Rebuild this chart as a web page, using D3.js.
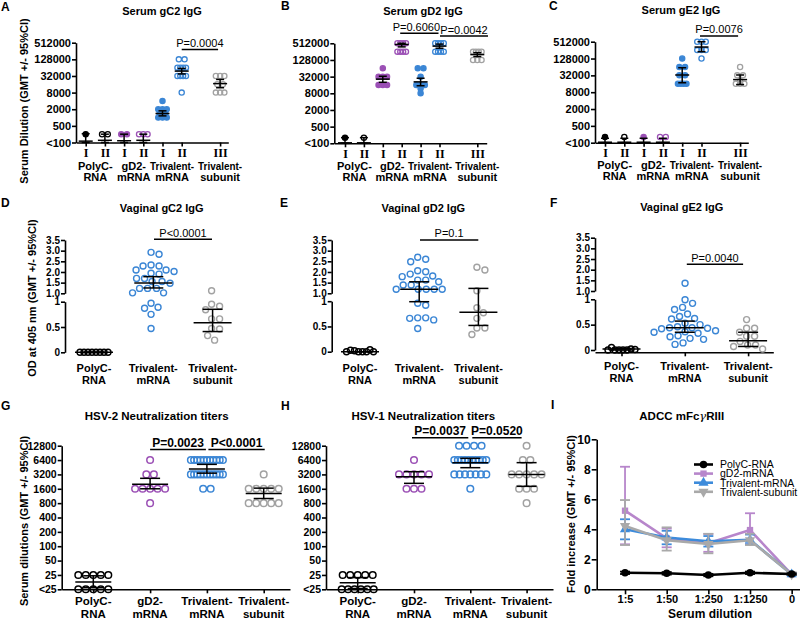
<!DOCTYPE html>
<html>
<head>
<meta charset="utf-8">
<script src="https://cdn.jsdelivr.net/npm/d3@7"></script>
<style>
  body { margin: 0; background: #fff; }
  svg { display: block; }
</style>
</head>
<body>
<script>
const FONT = "'Liberation Sans', Arial, Helvetica, sans-serif";
const purple = "#9b50b5", blue = "#3b86d5", gray = "#a2a2a2";
const purpleLine = "#b786cb", blueLine = "#3d8bdb", grayLine = "#a9a9a9";

// ---------- serum IgG (A, B, C) ----------
const serumTickValues = [125, 500, 2000, 8000, 32000, 128000, 512000];
const serumTickLabels = ["<100", "500", "2000", "8000", "32000", "128000", "512000"];
const serumRuns = ["I", "II", "I", "II", "I", "II", "III"];
const serumRunSlots = [0, 1, 2, 3, 4, 5, 7];
const serumColors = ["#000", "#000", purple, purple, blue, blue, gray];
const serumFilled = [true, false, true, false, true, false, false];
const serumGroupNames = [["PolyC-", "RNA"], ["gD2-", "mRNA"], ["Trivalent-", "mRNA"], ["Trivalent-", "subunit"]];
const serumGroupSlots = [0.5, 2.5, 4.5, 7];

const gC2Points = [[250], [250, 250], [250, 250], [250, 250, 250],
  [4000, 2000, 2000, 2000, 1400, 1400, 1000, 1000, 1000],
  [128000, 128000, 64000, 64000, 64000, 64000, 32000, 32000, 32000, 32000, 8000],
  [32000, 32000, 32000, 16000, 16000, 8000, 8000, 8000]];
const gC2Gmt = [140, 150, 145, 150, 1400, 48000, 16900];
const gC2Lo = [110, 110, 110, 110, 1150, 38000, 12000];
const gC2Hi = [260, 250, 250, 250, 1750, 60000, 24000];

const gD2Points = [[200], [200],
  [64000, 32000, 32000, 32000, 16000, 16000, 16000],
  [512000, 512000, 512000, 512000, 256000, 256000, 256000, 256000],
  [64000, 64000, 32000, 16000, 16000, 16000, 12000, 8000],
  [512000, 512000, 512000, 512000, 256000, 256000, 256000, 256000],
  [256000, 256000, 256000, 256000, 128000, 128000, 128000]];
const gD2Gmt = [130, 130, 26000, 465000, 20700, 405000, 200000];
const gD2Lo = [110, 110, 20000, 380000, 15000, 340000, 170000];
const gD2Hi = [200, 200, 33000, 512000, 28000, 480000, 235000];

const gE2Points = [[200], [200], [200], [200, 200],
  [128000, 64000, 64000, 32000, 32000, 16000, 16000, 16000, 16000],
  [512000, 512000, 512000, 256000, 256000, 256000, 128000],
  [64000, 32000, 32000, 20000, 16000, 16000, 16000]];
const gE2Gmt = [130, 130, 130, 130, 33000, 330000, 22600];
const gE2Lo = [110, 110, 110, 110, 17400, 225000, 15000];
const gE2Hi = [180, 180, 180, 180, 60000, 512000, 33000];

// ---------- vaginal IgG (D, E, F) ----------
const vagGroupNames = [["PolyC-", "RNA"], ["Trivalent-", "mRNA"], ["Trivalent-", "subunit"]];
const vagColors = ["#000", blue, gray];
const vagUpperTicks = [1.0, 1.5, 2.0, 2.5, 3.0, 3.5];
const vagLowerTicks = [0, 0.5, 1];

const vgC2Points = [[0, 0, 0, 0, 0, 0, 0, 0],
  [2.92, 2.83, 2.33, 2.28, 2.28, 2.09, 2.09, 2.02, 1.94, 1.9, 1.7, 1.7, 1.55, 1.55, 1.47, 1.23, 1.23, 1.23, 1.02, 1.02, 0.97, 0.89, 0.87, 0.75, 0.47],
  [1.12, 0.95, 0.91, 0.84, 0.66, 0.66, 0.47, 0.46, 0.33, 0.24]];
const vgC2Gmt = [0, 1.48, 0.585];
const vgC2Lo = [0, 1.25, 0.41];
const vgC2Hi = [0, 1.78, 0.85];

const vgD2Points = [[0, 0, 0.02, 0, 0.03, 0.04, 0, 0],
  [2.69, 2.6, 2.48, 2.06, 2.01, 1.9, 1.81, 1.78, 1.62, 1.62, 1.54, 1.39, 1.39, 1.19, 1.19, 1.19, 1.19, 1.19, 0.96, 0.92, 0.67, 0.67, 0.66, 0.63, 0.46],
  [2.22, 2.09, 1.12, 0.87, 0.77, 0.66, 0.47, 0.47, 0.34]];
const vgD2Gmt = [0, 1.19, 0.78];
const vgD2Lo = [0, 0.99, 0.52];
const vgD2Hi = [0, 1.54, 1.23];

const vgE2Points = [[0, 0, 0, 0.02, 0, 0.05, 0.01, 0],
  [1.36, 0.99, 0.92, 0.84, 0.8, 0.71, 0.66, 0.62, 0.61, 0.53, 0.5, 0.46, 0.44, 0.44, 0.43, 0.42, 0.38, 0.36, 0.35, 0.33, 0.28, 0.26, 0.23, 0.21, 0.14, 0.11],
  [0.6, 0.43, 0.43, 0.35, 0.27, 0.27, 0.17, 0.1, 0.1, 0.07, 0.02]];
const vgE2Gmt = [0.02, 0.44, 0.18];
const vgE2Lo = [0, 0.35, 0.07];
const vgE2Hi = [0.03, 0.57, 0.35];

// ---------- neutralization (G, H) ----------
const neutTickValues = [12.5, 25, 50, 100, 200, 400, 800, 1600, 3200, 6400, 12800];
const neutTickLabels = ["<25", "25", "50", "100", "200", "400", "800", "1600", "3200", "6400", "12800"];
const neutGroupNames = [["PolyC-", "RNA"], ["gD2-", "mRNA"], ["Trivalent-", "mRNA"], ["Trivalent-", "subunit"]];
const neutColors = ["#000", purple, blue, gray];

const hsv2Points = [[25, 25, 25, 25, 25, 12.5, 12.5, 12.5, 12.5, 12.5],
  [6400, 3200, 3200, 1600, 1600, 1600, 1600, 1600, 800],
  [6400, 6400, 6400, 6400, 6400, 6400, 6400, 6400, 6400, 6400, 6400,
   3200, 3200, 3200, 3200, 3200, 3200, 3200, 3200, 3200, 3200, 3200, 1600, 1600],
  [3200, 1600, 1600, 1600, 1600, 1600, 800, 800, 800, 800, 800]];
const hsv2Gmt = [17.7, 2000, 4160, 1280];
const hsv2Lo = [13.5, 1600, 3400, 1000];
const hsv2Hi = [24, 2650, 5200, 1650];

const hsv1Points = [[25, 25, 25, 25, 25, 12.5, 12.5, 12.5, 12.5, 12.5, 12.5],
  [6400, 3200, 3200, 3200, 3200, 3200, 1600, 1600, 1600],
  [12800, 12800, 12800, 12800, 6400, 6400, 6400, 6400, 6400, 6400, 6400, 6400, 6400, 6400,
   3200, 3200, 3200, 3200, 3200, 3200, 3200, 1600],
  [12800, 6400, 6400, 3200, 3200, 3200, 3200, 3200, 1600, 1600, 1600, 800]];
const hsv1Gmt = [17.1, 2870, 5650, 3200];
const hsv1Lo = [13, 2080, 4430, 1800];
const hsv1Hi = [22, 3650, 6960, 5650];

// ---------- ADCC (I) ----------
const adccDilutions = ["1:5", "1:50", "1:250", "1:1250", "0"];
const adccSeries = ["PolyC-RNA", "gD2-mRNA", "Trivalent-mRNA", "Trivalent-subunit"];
const adccTicks = [0, 2, 4, 6, 8, 10];
const adccPolyC = [1.1, 1.07, 0.95, 1.1, 1.02];
const adccPolyCLo = [1.02, 0.98, 0.87, 1.02, 0.97];
const adccPolyCHi = [1.18, 1.15, 1.03, 1.18, 1.07];
const adccGD2 = [5.24, 3.4, 3.07, 3.95, 1.0];
const adccGD2Lo = [3.0, 2.8, 2.5, 3.0, 0.95];
const adccGD2Hi = [8.17, 4.05, 3.69, 5.07, 1.05];
const adccTriv = [4.0, 3.45, 3.2, 3.3, 1.0];
const adccTrivLo = [3.33, 3.0, 2.85, 3.0, 0.95];
const adccTrivHi = [4.67, 3.9, 3.55, 3.65, 1.05];
const adccSub = [4.22, 3.27, 3.02, 3.27, 1.0];
const adccSubLo = [2.95, 2.58, 2.4, 2.95, 0.95];
const adccSubHi = [5.95, 4.13, 3.7, 3.7, 1.05];

const svg = d3.select("body").append("svg")
  .attr("width", 800).attr("height", 619)
  .attr("font-family", FONT);

// ---------- helpers ----------
function label(g, x, y, s, size, weight = "bold", anchor = "middle") {
  return g.append("text").attr("x", x).attr("y", y)
    .attr("text-anchor", anchor).attr("font-size", size)
    .attr("font-weight", weight).attr("fill", "#000").text(s);
}

function yLabel(g, x, y, s) {
  g.append("text").attr("transform", `translate(${x},${y}) rotate(-90)`)
    .attr("text-anchor", "middle").attr("font-size", 11)
    .attr("font-weight", "bold").text(s);
}

function styleAxis(a, size, family = FONT) {
  a.attr("font-family", family).attr("font-size", size).attr("font-weight", "bold");
  a.select(".domain").attr("stroke", "#000").attr("stroke-width", 1.6);
  a.selectAll(".tick line").attr("stroke", "#000").attr("stroke-width", 1.6);
  a.selectAll(".tick text").attr("fill", "#000");
}

function groupNames(g, xs, names, y1, y2, size, maxW) {
  names.forEach((n, i) => {
    n.forEach((s, j) => {
      const t = label(g, xs[i], j ? y2 : y1, s, size);
      if (maxW && t.node().getComputedTextLength() > maxW) {
        t.attr("textLength", maxW).attr("lengthAdjust", "spacingAndGlyphs");
      }
    });
  });
}

// same values sit in one row, squeezed when the row gets wide
function rowOffsets(vals, sp, maxW) {
  const counts = d3.rollup(vals, v => v.length, d => d);
  const seen = new Map();
  return vals.map(v => {
    const n = counts.get(v), k = seen.get(v) || 0;
    seen.set(v, k + 1);
    const s = n > 1 ? Math.min(sp, maxW / (n - 1)) : 0;
    return (k - (n - 1) / 2) * s;
  });
}

// simple beeswarm on pixel y
function swarmOffsets(ys, d) {
  const placed = [];
  const out = ys.map(y => {
    let best = 0;
    for (let step = 0; step < 600; step++) {
      const dx = (step % 2 ? 1 : -1) * Math.ceil(step / 2) * 0.5;
      if (placed.every(p => Math.hypot(p.x - dx, p.y - y) >= d)) { best = dx; break; }
    }
    placed.push({ x: best, y });
    return best;
  });
  const mid = (d3.min(out) + d3.max(out)) / 2;
  return out.map(v => v - mid);
}

function meanCI(g, cx, ym, ylo, yhi, mw, cw) {
  const s = g.append("g").attr("stroke", "#000").attr("stroke-width", 1.5);
  s.append("line").attr("x1", cx).attr("x2", cx).attr("y1", ylo).attr("y2", yhi);
  s.append("line").attr("x1", cx - cw).attr("x2", cx + cw).attr("y1", ylo).attr("y2", ylo);
  s.append("line").attr("x1", cx - cw).attr("x2", cx + cw).attr("y1", yhi).attr("y2", yhi);
  s.append("line").attr("x1", cx - mw).attr("x2", cx + mw).attr("y1", ym).attr("y2", ym);
}

function pBar(g, x, p, size, weight) {
  const x1 = x(p.a) + p.da, x2 = x(p.b) + p.db;
  g.append("line").attr("x1", x1).attr("x2", x2).attr("y1", p.ly).attr("y2", p.ly)
    .attr("stroke", "#000").attr("stroke-width", 1.6);
  label(g, (x1 + x2) / 2 + (p.tdx || 0), p.ty, p.s, size, weight);
}

function dots(g, xs, ys, color, filled, r, sw) {
  g.selectAll(null).data(xs).join("circle")
    .attr("cx", d => d).attr("cy", (d, i) => ys[i]).attr("r", r)
    .attr("fill", filled ? color : "none")
    .attr("stroke", color).attr("stroke-width", sw);
}

// ---------- serum panels ----------
const serumLayout = [
  { letter: "A", lx: 1, ly: 11, title: "Serum gC2 IgG", tx: 162, ty: 14.5,
    ylab: "Serum Dilution (GMT +/- 95%CI)", ylx: 28, yly: 101,
    axisX: 76, xEnd: 228.3, yTop: 42.7, yBase: 142.5, x0: 85.7, step: 19.2, lab1: 169.5, lab2: 180.5,
    points: gC2Points, gmt: gC2Gmt, lo: gC2Lo, hi: gC2Hi,
    p: [{ s: "P=0.0004", a: 5, b: 7, da: 0, db: -2, ly: 49.5, ty: 46.5 }] },
  { letter: "B", lx: 281, ly: 10, title: "Serum gD2 IgG", tx: 423, ty: 15,
    axisX: 334.3, xEnd: 486.7, yTop: 43.3, yBase: 143.3, x0: 345, step: 18.9, lab1: 169.5, lab2: 180.5,
    points: gD2Points, gmt: gD2Gmt, lo: gD2Lo, hi: gD2Hi,
    p: [{ s: "P=0.6060", a: 3, b: 5, da: -1.5, db: -1, ly: 33.3, ty: 30.7, tdx: -3 },
        { s: "P=0.0042", a: 5, b: 7, da: 0.5, db: 10.7, ly: 36, ty: 34 }] },
  { letter: "C", lx: 549, ly: 10, title: "Serum gE2 IgG", tx: 681, ty: 14,
    axisX: 595, xEnd: 748.3, yTop: 41.7, yBase: 142.7, x0: 605, step: 19.3, lab1: 168.5, lab2: 179.5,
    points: gE2Points, gmt: gE2Gmt, lo: gE2Lo, hi: gE2Hi,
    p: [{ s: "P=0.0076", a: 5, b: 7, da: -1.5, db: -2, ly: 36, ty: 32.7 }] }
];

serumLayout.forEach(p => {
  const y = d3.scaleLog().base(4).domain([125, 512000]).range([p.yBase, p.yTop]).clamp(true);
  const x = d3.scaleLinear().domain([0, 7]).range([p.x0, p.x0 + 7 * p.step]);
  const g = svg.append("g");
  label(g, p.lx, p.ly, p.letter, 12, "bold", "start");
  label(g, p.tx, p.ty, p.title, 11);
  if (p.ylab) yLabel(g, p.ylx, p.yly, p.ylab);

  const ya = g.append("g").attr("transform", `translate(${p.axisX},0)`)
    .call(d3.axisLeft(y).tickValues(serumTickValues)
      .tickFormat((d, i) => serumTickLabels[i]).tickSize(4).tickPadding(1).tickSizeOuter(0));
  styleAxis(ya, 11);

  const xa = d3.scaleLinear().domain([x.invert(p.axisX), x.invert(p.xEnd)]).range([p.axisX, p.xEnd]);
  const xg = g.append("g").attr("transform", `translate(0,${p.yBase})`)
    .call(d3.axisBottom(xa).tickValues(serumRunSlots)
      .tickFormat((d, i) => serumRuns[i]).tickSize(4).tickPadding(2).tickSizeOuter(0));
  styleAxis(xg, 12, "'Liberation Serif', 'DejaVu Serif', serif");

  groupNames(g, serumGroupSlots.map(x), serumGroupNames, p.lab1, p.lab2, 11, 44);

  p.points.forEach((vals, i) => {
    const cx = x(serumRunSlots[i]);
    const offs = rowOffsets(vals, 5.7, 8.5);
    dots(g, offs.map(o => cx + o), vals.map(y), serumColors[i], serumFilled[i], 2.6, 1.3);
  });
  p.points.forEach((vals, i) => {
    const cx = x(serumRunSlots[i]);
    meanCI(g, cx, y(p.gmt[i]), y(p.lo[i]), y(p.hi[i]), 7, 4);
  });
  p.p.forEach(q => pBar(g, x, q, 11, "normal"));
});

// ---------- vaginal panels ----------
const vagLayout = [
  { letter: "D", lx: 1, ly: 207, title: "Vaginal gC2 IgG", tx: 161.7, ty: 212,
    ylab: "OD at 405 nm (GMT +/- 95%CI)", ylx: 35.5, yly: 298,
    axisX: 65, up1: 293.3, up35: 240, low0: 352.3, low1: 301.7, x0: 94, step: 59.3,
    lab1: 372, lab2: 384, xAxis: false,
    points: vgC2Points, gmt: vgC2Gmt, lo: vgC2Lo, hi: vgC2Hi,
    p: [{ s: "P<0.0001", a: 1, b: 2, da: 0.7, db: -0.6, ly: 239.3, ty: 236.5 }] },
  { letter: "E", lx: 280, ly: 207, title: "Vaginal gD2 IgG", tx: 423.3, ty: 212,
    axisX: 331.7, up1: 293.3, up35: 240, low0: 351.7, low1: 301.2, x0: 360, step: 59.2,
    lab1: 372, lab2: 384, xAxis: false,
    points: vgD2Points, gmt: vgD2Gmt, lo: vgD2Lo, hi: vgD2Hi,
    p: [{ s: "P=0.1", a: 1, b: 2, da: 0.8, db: -0.1, ly: 240, ty: 236.5 }] },
  { letter: "F", lx: 550, ly: 207, title: "Vaginal gE2 IgG", tx: 681.7, ty: 211,
    axisX: 595, up1: 291, up35: 237.7, low0: 350, low1: 299.3, x0: 621.5, step: 63.3,
    lab1: 370, lab2: 382, xAxis: true, xAxisY: 352.3, xEnd: 773.3,
    points: vgE2Points, gmt: vgE2Gmt, lo: vgE2Lo, hi: vgE2Hi,
    p: [{ s: "P=0.0040", a: 1, b: 2, da: 2, db: -5, ly: 264.3, ty: 261.5 }] }
];

vagLayout.forEach(p => {
  const up = d3.scaleLinear().domain([1, 3.5]).range([p.up1, p.up35]);
  const low = d3.scaleLinear().domain([0, 1]).range([p.low0, p.low1]);
  const y = v => (v >= 1 ? up(v) : low(v));
  const x = d3.scaleLinear().domain([0, 2]).range([p.x0, p.x0 + 2 * p.step]);
  const g = svg.append("g");
  label(g, p.lx, p.ly, p.letter, 12, "bold", "start");
  label(g, p.tx, p.ty, p.title, 11);
  if (p.ylab) yLabel(g, p.ylx, p.yly, p.ylab);

  const ua = g.append("g").attr("transform", `translate(${p.axisX},0)`)
    .call(d3.axisLeft(up).tickValues(vagUpperTicks).tickFormat(d3.format(".1f"))
      .tickSize(4).tickPadding(1).tickSizeOuter(0));
  styleAxis(ua, 10);
  const la = g.append("g").attr("transform", `translate(${p.axisX},0)`)
    .call(d3.axisLeft(low).tickValues(vagLowerTicks).tickFormat(d => String(d))
      .tickSize(4).tickPadding(1).tickSizeOuter(0));
  styleAxis(la, 10);

  if (p.xAxis) {
    const xa = d3.scaleLinear().domain([x.invert(p.axisX), x.invert(p.xEnd)]).range([p.axisX, p.xEnd]);
    const xg = g.append("g").attr("transform", `translate(0,${p.xAxisY})`)
      .call(d3.axisBottom(xa).tickValues([0, 1, 2]).tickFormat(() => "").tickSize(4).tickSizeOuter(0));
    styleAxis(xg, 11);
  }

  groupNames(g, [0, 1, 2].map(x), vagGroupNames, p.lab1, p.lab2, 11);

  p.points.forEach((vals, i) => {
    const ys = vals.map(y);
    const offs = swarmOffsets(ys, i === 0 ? 4 : 8);
    dots(g, offs.map(o => x(i) + o), ys, vagColors[i], false, 3, 1.4);
  });
  p.points.forEach((vals, i) => {
    meanCI(g, x(i), y(p.gmt[i]), y(p.lo[i]), y(p.hi[i]), 19, 10);
  });
  p.p.forEach(q => pBar(g, x, q, 11, "normal"));
});

// ---------- neutralization panels ----------
const neutLayout = [
  { letter: "G", lx: 1, ly: 410, title: "HSV-2 Neutralization titers", tx: 156.7, ty: 420,
    ylab: "Serum dilutions (GMT +/- 95%CI)", ylx: 28, yly: 521,
    axisX: 61.7, xEnd: 290, x0: 93.3, step: 56.8,
    points: hsv2Points, gmt: hsv2Gmt, lo: hsv2Lo, hi: hsv2Hi,
    p: [{ s: "P=0.0023", a: 1, b: 2, da: 0, db: -1, ly: 449.5, ty: 446.5 },
        { s: "P<0.0001", a: 2, b: 3, da: 1.5, db: 1, ly: 449.5, ty: 446.5 }] },
  { letter: "H", lx: 281, ly: 410, title: "HSV-1 Neutralization titers", tx: 423.3, ty: 419.5,
    axisX: 326, xEnd: 553, x0: 357.7, step: 56.3,
    points: hsv1Points, gmt: hsv1Gmt, lo: hsv1Lo, hi: hsv1Hi,
    p: [{ s: "P=0.0037", a: 1, b: 2, da: -2, db: -2, ly: 437.7, ty: 434.5 },
        { s: "P=0.0520", a: 2, b: 3, da: 2, db: -5, ly: 437.7, ty: 434.5 }] }
];

neutLayout.forEach(p => {
  const y = d3.scaleLog().base(2).domain([12.5, 12800]).range([589.3, 445.7]).clamp(true);
  const x = d3.scaleLinear().domain([0, 3]).range([p.x0, p.x0 + 3 * p.step]);
  const g = svg.append("g");
  label(g, p.lx, p.ly, p.letter, 12, "bold", "start");
  label(g, p.tx, p.ty, p.title, 11.5);
  if (p.ylab) yLabel(g, p.ylx, p.yly, p.ylab);

  const ya = g.append("g").attr("transform", `translate(${p.axisX},0)`)
    .call(d3.axisLeft(y).tickValues(neutTickValues)
      .tickFormat((d, i) => neutTickLabels[i]).tickSize(4).tickPadding(1).tickSizeOuter(0));
  styleAxis(ya, 10.5);

  const xa = d3.scaleLinear().domain([x.invert(p.axisX), x.invert(p.xEnd)]).range([p.axisX, p.xEnd]);
  const xg = g.append("g").attr("transform", "translate(0,589.3)")
    .call(d3.axisBottom(xa).tickValues([0, 1, 2, 3]).tickFormat(() => "").tickSize(4).tickSizeOuter(0));
  styleAxis(xg, 11);

  groupNames(g, [0, 1, 2, 3].map(x), neutGroupNames, 605, 617.5, 11.5);

  p.points.forEach((vals, i) => {
    const offs = rowOffsets(vals, 7.5, 32);
    dots(g, offs.map(o => x(i) + o), vals.map(y), neutColors[i], false, 3.3, 1.5);
  });
  p.points.forEach((vals, i) => {
    meanCI(g, x(i), y(p.gmt[i]), y(p.lo[i]), y(p.hi[i]), 18, 10);
  });
  p.p.forEach(q => pBar(g, x, q, 12, "bold"));
});

// ---------- ADCC line chart ----------
{
  const g = svg.append("g");
  const y = d3.scaleLinear().domain([0, 10]).range([589.3, 439.3]);
  const x = d3.scalePoint().domain(adccDilutions).range([596.7, 820]).padding(0.68);
  label(g, 551, 409, "I", 12, "bold", "start");
  const t = label(g, 681.7, 420, "ADCC mFc", 11.5);
  t.append("tspan").attr("font-style", "italic").attr("font-weight", "normal")
    .attr("font-family", "'DejaVu Serif', serif").text("γ");
  t.append("tspan").text("RIII");
  yLabel(g, 575, 514, "Fold increase (GMT +/- 95%CI)");

  const ya = g.append("g").attr("transform", "translate(596.7,0)")
    .call(d3.axisLeft(y).tickValues(adccTicks).tickSize(5).tickPadding(1).tickSizeOuter(0));
  styleAxis(ya, 12);
  const xg = g.append("g").attr("transform", "translate(0,589.3)")
    .call(d3.axisBottom(x).tickSize(5).tickPadding(1).tickSizeOuter(0));
  styleAxis(xg, 11);
  label(g, 710, 617.5, "Serum dilution", 12);

  const rows = [
    { v: adccGD2, lo: adccGD2Lo, hi: adccGD2Hi, color: purpleLine, sym: d3.symbolSquare, size: 40, rot: 0, name: adccSeries[1] },
    { v: adccTriv, lo: adccTrivLo, hi: adccTrivHi, color: blueLine, sym: d3.symbolTriangle, size: 45, rot: 0, name: adccSeries[2] },
    { v: adccSub, lo: adccSubLo, hi: adccSubHi, color: grayLine, sym: d3.symbolTriangle, size: 45, rot: 180, name: adccSeries[3] },
    { v: adccPolyC, lo: adccPolyCLo, hi: adccPolyCHi, color: "#000", sym: d3.symbolCircle, size: 45, rot: 0, name: adccSeries[0] }
  ];
  const line = d3.line().x((d, i) => x(adccDilutions[i])).y(d => y(d));
  rows.forEach(r => {
    const eb = g.append("g").attr("stroke", r.color).attr("stroke-width", 1.8);
    adccDilutions.forEach((k, i) => {
      const cx = x(k);
      eb.append("line").attr("x1", cx).attr("x2", cx).attr("y1", y(r.lo[i])).attr("y2", y(r.hi[i]));
      [r.lo[i], r.hi[i]].forEach(v => eb.append("line")
        .attr("x1", cx - 5).attr("x2", cx + 5).attr("y1", y(v)).attr("y2", y(v)));
    });
    g.append("path").datum(r.v).attr("d", line).attr("fill", "none")
      .attr("stroke", r.color).attr("stroke-width", 2.6);
    g.selectAll(null).data(r.v).join("path")
      .attr("d", d3.symbol().type(r.sym).size(r.size))
      .attr("transform", (d, i) => `translate(${x(adccDilutions[i])},${y(d)}) rotate(${r.rot})`)
      .attr("fill", r.color);
  });

  // legend
  const legendOrder = [rows[3], rows[0], rows[1], rows[2]];
  legendOrder.forEach((r, i) => {
    const ly = 464.5 + i * 9.1;
    g.append("line").attr("x1", 694).attr("x2", 713).attr("y1", ly).attr("y2", ly)
      .attr("stroke", r.color).attr("stroke-width", 2.6);
    g.append("path").attr("d", d3.symbol().type(r.sym).size(r.size))
      .attr("transform", `translate(703.5,${ly}) rotate(${r.rot})`).attr("fill", r.color);
    label(g, 720, ly + 3.8, r.name, 10.5, "normal", "start");
  });
}
</script>
</body>
</html>
